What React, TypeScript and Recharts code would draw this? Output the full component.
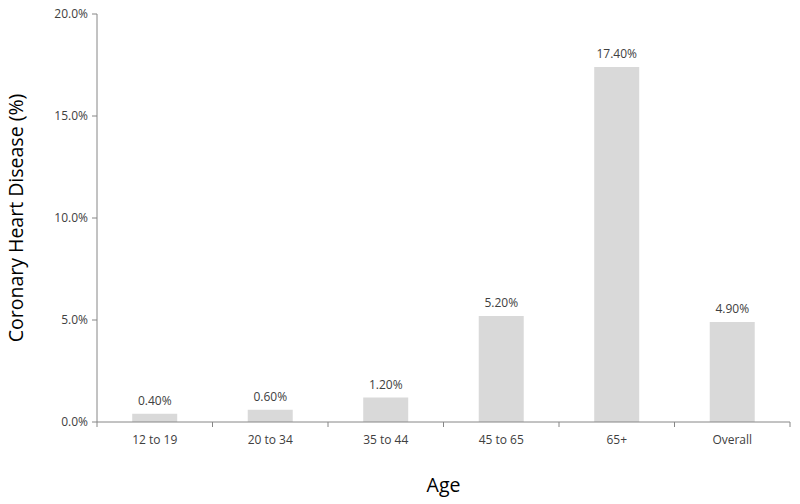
import React from 'react';
import { BarChart, Bar, XAxis, YAxis, LabelList, Label } from 'recharts';

const categories = ['12 to 19', '20 to 34', '35 to 44', '45 to 65', '65+', 'Overall'];
const values = [0.4, 0.6, 1.2, 5.2, 17.4, 4.9];
const yTicks = [0, 5, 10, 15, 20];

const data = categories.map((c, i) => ({ age: c, value: values[i] }));

const FONT = '"Open Sans", sans-serif';
const AXIS = '#868686';
const TEXT = '#404040';
const TICK_MARGIN = 19;

const XTick = (props: any) => {
  const { x, y, payload, index, visibleTicksCount } = props;
  const half = payload && payload.offset ? payload.offset : 0;
  const axisY = y - TICK_MARGIN;
  const last = index === (visibleTicksCount ?? categories.length) - 1;
  return (
    <g>
      <line x1={x - half} x2={x - half} y1={axisY} y2={axisY + 5} stroke={AXIS} />
      {last && <line x1={x + half} x2={x + half} y1={axisY} y2={axisY + 5} stroke={AXIS} />}
      <text x={x} y={y} textAnchor="middle" dominantBaseline="middle" fill={TEXT} fontSize={12} fontFamily={FONT}>
        {payload.value}
      </text>
    </g>
  );
};

const YTitle = (props: any) => {
  const vb = props.viewBox || {};
  const cy = vb.y + vb.height / 2;
  const cx = 18;
  return (
    <text x={cx} y={cy} transform={`rotate(-90, ${cx}, ${cy})`} textAnchor="middle" dominantBaseline="middle" fill="#000" fontSize={19.5} fontFamily={FONT}>
      Coronary Heart Disease (%)
    </text>
  );
};

export default function App() {
  return (
    <div style={{ position: 'absolute', left: 0, top: 0, width: 800, height: 504, background: '#fff' }}>
      <BarChart width={800} height={504} data={data} margin={{ top: 14, right: 10, left: 0, bottom: 12 }} barCategoryGap="30.5%">
        <XAxis
          dataKey="age"
          height={70}
          stroke={AXIS}
          tickLine={false}
          tickSize={0}
          tickMargin={TICK_MARGIN}
          tick={<XTick />}
          interval={0}
        >
          <Label value="Age" position="insideBottom" offset={0} fill="#000" fontSize={19.5} fontFamily={FONT} />
        </XAxis>
        <YAxis
          width={97}
          domain={[0, 20]}
          ticks={yTicks}
          stroke={AXIS}
          tickSize={5}
          tickMargin={4}
          tick={{ fill: TEXT, fontSize: 12, fontFamily: FONT }}
          tickFormatter={(v: number) => v.toFixed(1) + '%'}
        >
          <Label content={<YTitle />} />
        </YAxis>
        <Bar dataKey="value" fill="#d9d9d9" isAnimationActive={false}>
          <LabelList dataKey="value" position="top" offset={9} fill={TEXT} fontSize={12} fontFamily={FONT} formatter={(v: any) => Number(v).toFixed(2) + '%'} />
        </Bar>
      </BarChart>
    </div>
  );
}
